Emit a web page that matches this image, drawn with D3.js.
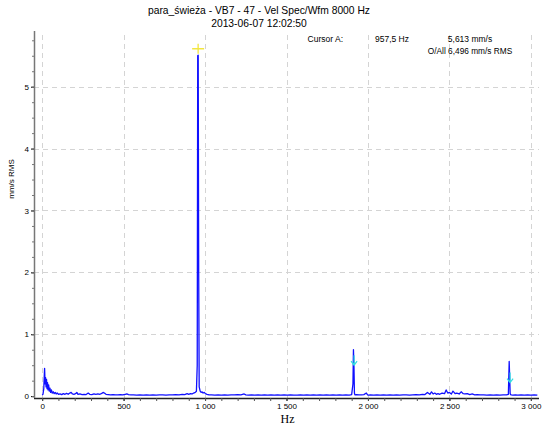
<!DOCTYPE html>
<html lang="pl">
<head>
<meta charset="UTF-8">
<script src="https://d3js.org/d3.v7.min.js"></script>
<title>Vel Spec</title>
<style>
  body { margin: 0; background: #fff; }
  svg text { font-family: "Liberation Sans", Arial, sans-serif; fill: #000; }
</style>
</head>
<body>
<svg id="chart" width="550" height="426"></svg>
<script>
// spectrum values (Hz, mm/s RMS)
var freqs = [0, 5, 10, 15, 18, 21, 24, 27, 30, 33, 36, 40, 44, 48, 52, 57, 62, 68, 74, 80, 86, 92,
  100, 110, 120, 130, 140, 150, 160, 170, 178, 186, 195, 205, 213, 220, 232, 245, 258, 270, 283, 292,
  305, 318, 330, 342, 355, 366, 374, 382, 392, 405, 420, 435, 450, 465, 480, 495, 510, 520, 530, 545,
  560, 580, 600, 620, 640, 660, 680, 700, 720, 740, 760, 780, 800, 820, 840, 860, 875, 890, 900, 910,
  920, 930, 940, 947, 952, 955, 958, 961, 964, 970, 976, 982, 988, 995, 1002, 1012, 1025, 1040, 1060,
  1080, 1100, 1120, 1140, 1160, 1180, 1200, 1220, 1240, 1250, 1265, 1285, 1305, 1325, 1345, 1365, 1385,
  1405, 1425, 1445, 1465, 1485, 1505, 1525, 1545, 1565, 1585, 1605, 1625, 1645, 1665, 1685, 1705, 1725,
  1745, 1765, 1785, 1805, 1825, 1845, 1865, 1885, 1900, 1908, 1911, 1914, 1917, 1920, 1930, 1945, 1960,
  1975, 1990, 1998, 2003, 2015, 2035, 2055, 2075, 2095, 2115, 2135, 2155, 2175, 2195, 2215, 2235, 2255,
  2275, 2295, 2315, 2335, 2350, 2365, 2380, 2390, 2400, 2410, 2420, 2430, 2440, 2455, 2470, 2480, 2490,
  2500, 2512, 2522, 2535, 2545, 2560, 2572, 2585, 2595, 2610, 2625, 2640, 2655, 2670, 2690, 2710, 2730,
  2750, 2770, 2790, 2810, 2830, 2850, 2862, 2867, 2870, 2873, 2876, 2880, 2890, 2905, 2920, 2940, 2960,
  2980, 3000, 3020, 3040, 3050];
var amps = [0.02, 0.03, 0.12, 0.45, 0.2, 0.3, 0.15, 0.27, 0.12, 0.22, 0.1, 0.18, 0.08, 0.13, 0.06, 0.1, 0.05, 0.07, 0.04, 0.06, 0.035, 0.05,
  0.03, 0.035, 0.025, 0.04, 0.03, 0.045, 0.03, 0.05, 0.06, 0.035, 0.03, 0.04, 0.06, 0.03, 0.035, 0.025, 0.03, 0.025, 0.05, 0.03,
  0.025, 0.035, 0.03, 0.035, 0.03, 0.045, 0.06, 0.05, 0.03, 0.025, 0.02, 0.025, 0.02, 0.02, 0.025, 0.02, 0.03, 0.035, 0.025, 0.02,
  0.02, 0.015, 0.02, 0.015, 0.02, 0.015, 0.02, 0.015, 0.02, 0.02, 0.015, 0.02, 0.02, 0.025, 0.02, 0.03, 0.025, 0.04, 0.03, 0.04,
  0.035, 0.05, 0.06, 0.08, 0.5, 5.5, 5.51, 2.0, 0.15, 0.08, 0.06, 0.07, 0.05, 0.06, 0.04, 0.03, 0.02, 0.02, 0.015,
  0.02, 0.015, 0.02, 0.015, 0.02, 0.02, 0.025, 0.02, 0.035, 0.02, 0.015, 0.02, 0.015, 0.02, 0.015, 0.02, 0.015,
  0.02, 0.015, 0.02, 0.015, 0.02, 0.015, 0.02, 0.015, 0.015, 0.02, 0.015, 0.02, 0.015, 0.02, 0.015, 0.02, 0.015,
  0.02, 0.015, 0.02, 0.015, 0.02, 0.015, 0.02, 0.015, 0.025, 0.2, 0.75, 0.5, 0.05, 0.02, 0.025, 0.02,
  0.02, 0.025, 0.05, 0.02, 0.015, 0.02, 0.015, 0.02, 0.015, 0.02, 0.015, 0.02, 0.015, 0.02, 0.015, 0.02, 0.02,
  0.015, 0.02, 0.025, 0.02, 0.03, 0.025, 0.06, 0.03, 0.07, 0.035, 0.05, 0.03, 0.04, 0.03, 0.05, 0.04, 0.1,
  0.05, 0.06, 0.035, 0.08, 0.04, 0.05, 0.035, 0.07, 0.04, 0.035, 0.04, 0.025, 0.035, 0.02, 0.025, 0.02, 0.02,
  0.015, 0.02, 0.015, 0.02, 0.015, 0.02, 0.02, 0.03, 0.56, 0.3, 0.04, 0.025, 0.02, 0.015, 0.02, 0.015, 0.02,
  0.015, 0.02, 0.015, 0.02, 0.015];

var xTicks = [0, 500, 1000, 1500, 2000, 2500, 3000];
var xTickLabels = ["0", "500", "1 000", "1 500", "2 000", "2 500", "3 000"];
var yTicks = [0, 1, 2, 3, 4, 5];

var cursorA = [957.5, 5.613];
var harmonics = [[1915, 0.5], [2872.5, 0.22]];

var titleLines = ["para_świeża - VB7 - 47 - Vel Spec/Wfm 8000 Hz", "2013-06-07 12:02:50"];

var svg = d3.select("#chart");
var margin = {top: 31, right: 11, bottom: 28, left: 34};
var W = 550, H = 426;

var x = d3.scaleLinear().domain([-50, 3050]).range([margin.left, W - margin.right]);
var y = d3.scaleLinear().domain([-0.03, 5.9]).range([H - margin.bottom, margin.top]);

// grid
var grid = svg.append("g").attr("stroke", "#d4d4d4").attr("stroke-dasharray", "5,4").attr("stroke-width", 1);
grid.selectAll(".vg").data(xTicks).enter().append("line")
  .attr("x1", d => Math.round(x(d)) + 0.5).attr("x2", d => Math.round(x(d)) + 0.5)
  .attr("y1", margin.top + 4).attr("y2", H - margin.bottom);
grid.selectAll(".hg").data(yTicks.slice(1)).enter().append("line")
  .attr("y1", d => Math.round(y(d)) + 0.5).attr("y2", d => Math.round(y(d)) + 0.5)
  .attr("x1", margin.left).attr("x2", W - margin.right);

// spectrum line
svg.append("clipPath").attr("id", "clip").append("rect")
  .attr("x", margin.left).attr("y", margin.top).attr("width", W - margin.left - margin.right)
  .attr("height", H - margin.top - margin.bottom);
var line = d3.line().x((d, i) => x(freqs[i])).y(d => y(d));
svg.append("path").datum(amps).attr("clip-path", "url(#clip)")
  .attr("d", line).attr("fill", "none").attr("stroke", "#1010ff").attr("stroke-width", 1.3)
  .attr("stroke-linejoin", "round");

// axes
var xAxis = d3.axisBottom(x).tickValues(xTicks).tickFormat((d, i) => xTickLabels[i]).tickSize(3).tickPadding(2);
var gx = svg.append("g").attr("transform", `translate(0,${H - margin.bottom})`).call(xAxis);
gx.select(".domain").attr("stroke", "#222").attr("stroke-width", 1.5).attr("d", `M${margin.left},0.5H${W - margin.right}`);
gx.selectAll("text").attr("font-size", 8).attr("font-family", "Liberation Sans, Arial, sans-serif");
var xMinor = d3.axisBottom(x).tickValues(d3.range(0, 3001, 100)).tickFormat("").tickSize(3);
svg.append("g").attr("transform", `translate(0,${H - margin.bottom})`).call(xMinor)
  .call(g => g.select(".domain").remove()).selectAll("line").attr("stroke", "#555");

var yAxis = d3.axisLeft(y).tickValues(yTicks).tickFormat(d3.format("d")).tickSize(3).tickPadding(2);
var gy = svg.append("g").attr("transform", `translate(${margin.left},0)`).call(yAxis);
gy.select(".domain").attr("stroke", "#777").attr("stroke-width", 1.5).attr("d", `M0.5,${margin.top}V${H - margin.bottom}`);
gy.selectAll("text").attr("font-size", 8).attr("font-family", "Liberation Sans, Arial, sans-serif");
var yMinor = d3.axisLeft(y).tickValues(d3.range(0, 5.8, 0.25)).tickFormat("").tickSize(2);
svg.append("g").attr("transform", `translate(${margin.left},0)`).call(yMinor)
  .call(g => g.select(".domain").remove()).selectAll("line").attr("stroke", "#777");

// axis titles
svg.append("text").attr("x", x(1500) + 1).attr("y", 423).attr("text-anchor", "middle")
  .attr("font-size", 12).style("font-family", "Liberation Serif, Times New Roman, serif").text("Hz");
svg.append("text").attr("transform", "translate(14,179) rotate(-90)").attr("text-anchor", "middle")
  .attr("font-size", 8).text("mm/s RMS");

// title
svg.selectAll(".title").data(titleLines).enter().append("text")
  .attr("x", 259).attr("y", (d, i) => 14 + i * 13).attr("text-anchor", "middle")
  .attr("font-size", 10.3).text(d => d);

// cursor readout
svg.append("text").attr("x", 343).attr("y", 42).attr("text-anchor", "end").attr("font-size", 8.5).text("Cursor A:");
svg.append("text").attr("x", 409).attr("y", 42).attr("text-anchor", "end").attr("font-size", 8.5)
  .text(d3.format(".1f")(cursorA[0]).replace(".", ",") + " Hz");
svg.append("text").attr("x", 470).attr("y", 42).attr("text-anchor", "middle").attr("font-size", 8.5)
  .text(d3.format(".3f")(cursorA[1]).replace(".", ",") + " mm/s");
svg.append("text").attr("x", 470).attr("y", 54).attr("text-anchor", "middle").attr("font-size", 8.3)
  .text("O/All 6,496 mm/s RMS");

// cursor cross
var cx = x(cursorA[0]), cy = y(cursorA[1]);
svg.append("path").attr("d", `M${cx - 6},${cy}H${cx + 6}M${cx},${cy - 5}V${cy + 5}`)
  .attr("stroke", "#f2e640").attr("stroke-width", 1.3).attr("fill", "none");

// harmonic arrows
svg.selectAll(".harm").data(harmonics).enter().append("path")
  .attr("d", d => {
    var hx = x(d[0]), hy = y(d[1]);
    return `M${hx},${hy - 10}V${hy}M${hx - 3},${hy - 4}L${hx},${hy}L${hx + 3},${hy - 4}`;
  })
  .attr("stroke", "#30e0e0").attr("stroke-width", 1.2).attr("fill", "none");
</script>
</body>
</html>
